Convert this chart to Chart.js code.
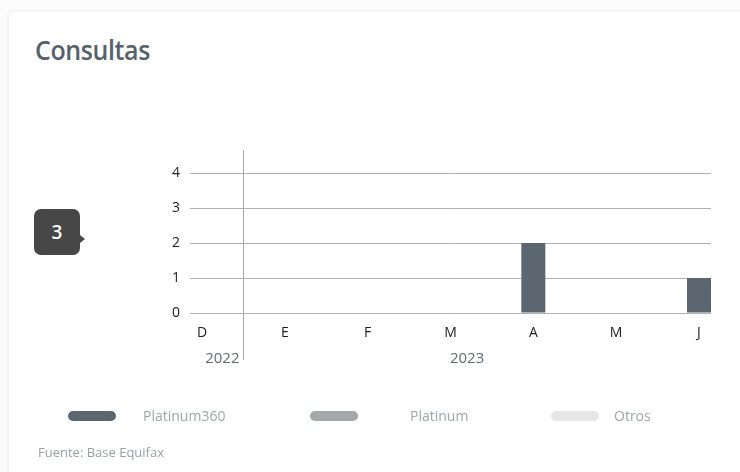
<!DOCTYPE html>
<html>
<head>
<meta charset="utf-8">
<script src="https://cdn.jsdelivr.net/npm/chart.js@4.4.0/dist/chart.umd.min.js"></script>
<style>
  html, body { margin: 0; padding: 0; background: #fbfbfb; }
  body { width: 740px; height: 472px; position: relative; overflow: hidden; font-family: "Open Sans", sans-serif; }
  .card { position: absolute; left: 9px; top: 12px; width: 760px; height: 500px; background: #fff;
          border-radius: 6px; box-shadow: 0 0 5px rgba(0,0,0,0.08); }
  h1 { position: absolute; left: 35px; top: 33px; margin: 0; font-size: 25px; line-height: 30px; font-weight: 600; color: #56616b;
       letter-spacing: -0.4px; transform: scale(1, 1.09); transform-origin: left top; }
  .badge { position: absolute; left: 34px; top: 209px; width: 46px; height: 46px; background: #474747; border-radius: 7px;
           color: #fff; font-size: 19px; font-weight: 600; line-height: 46px; text-align: center; }
  .badge:after { content: ""; position: absolute; right: -5px; top: 26px; border-left: 5px solid #474747;
                 border-top: 4px solid transparent; border-bottom: 4px solid transparent; }
  #chart { position: absolute; left: 0; top: 0; }
  .legend { position: absolute; top: 406px; left: 0; font-size: 14px; color: #a0a5a9; }
  .legend span { position: absolute; white-space: nowrap; }
  .legend i { position: absolute; top: 5px; width: 48px; height: 10px; border-radius: 5px; }
  .source { position: absolute; left: 38px; top: 443px; font-size: 13px; color: #9aa0a4; }
</style>
</head>
<body>
<div class="card"></div>
<h1>Consultas</h1>
<div class="badge">3</div>
<canvas id="chart" width="740" height="472"></canvas>
<div class="legend" id="legend"></div>
<div class="source">Fuente: Base Equifax</div>
<script>
// meses (dic 2022 - jun 2023)
const months = ["D", "E", "F", "M", "A", "M", "J"];
const years = ["2022", "2023"];
const yTicks = [0, 1, 2, 3, 4];

const platinum360 = [0, 0, 0, 0, 2, 0, 1];
const platinum = [0, 0, 0, 0, 0, 0, 0];
const otros = [0, 0, 0, 0, 0, 0, 0];

const seriesNames = ["Platinum360", "Platinum", "Otros"];
const seriesColors = ["#5b6670", "#a4a8ab", "#e6e6e6"];

const toPoints = (arr) => arr.map((v, i) => ({ x: i, y: v }));

// linea separadora de años y etiquetas de año
const yearDivider = {
  id: "yearDivider",
  afterDraw(chart) {
    const { ctx, scales } = chart;
    const xs = scales.x;
    const x = Math.round(xs.getPixelForValue(0.5)) + 0.5;
    ctx.save();
    ctx.strokeStyle = "#a8a8a8";
    ctx.lineWidth = 1;
    ctx.beginPath();
    ctx.moveTo(x, 150);
    ctx.lineTo(x, 360);
    ctx.stroke();
    ctx.fillStyle = "#5f6b75";
    ctx.font = "15px 'Open Sans'";
    ctx.textBaseline = "middle";
    ctx.textAlign = "right";
    ctx.fillText(years[0], x - 4, 359);
    ctx.textAlign = "center";
    ctx.fillText(years[1], xs.getPixelForValue(3.2), 359);
    ctx.restore();
  },
};

new Chart(document.getElementById("chart"), {
  type: "bar",
  data: {
    datasets: [platinum360, platinum, otros].map((d, i) => ({
      label: seriesNames[i],
      data: toPoints(d),
      backgroundColor: seriesColors[i],
      barThickness: 24,
      inflateAmount: 0,
    })),
  },
  options: {
    responsive: false,
    animation: false,
    layout: { padding: { left: 150, right: 29, top: 173, bottom: 129 } },
    plugins: { legend: { display: false }, tooltip: { enabled: false } },
    scales: {
      x: {
        type: "linear",
        stacked: true,
        offset: false,
        min: -0.145,
        max: 6.145,
        afterFit: (s) => { s.height = 30; },
        afterBuildTicks: (s) => { s.ticks = months.map((m, i) => ({ value: i })); },
        grid: { display: false },
        border: { display: false },
        ticks: {
          padding: 4,
          color: "#222",
          font: { family: "Open Sans", size: 14 },
          autoSkip: false,
          maxRotation: 0,
          callback: (v) => months[v],
        },
      },
      y: {
        stacked: true,
        min: 0,
        max: 4,
        afterFit: (s) => { s.width = 40; },
        afterBuildTicks: (s) => { s.ticks = yTicks.map((v) => ({ value: v })); },
        grid: { color: "#b0b0b0", drawTicks: false },
        border: { display: false },
        ticks: {
          padding: 10,
          color: "#222",
          font: { family: "Open Sans", size: 14 },
        },
      },
    },
  },
  plugins: [yearDivider],
});

// leyenda
const legendPill = [68, 310, 551];
const legendText = [143, 410, 614];
const legend = document.getElementById("legend");
seriesNames.forEach((name, i) => {
  legend.innerHTML += `<i style="left:${legendPill[i]}px;background:${seriesColors[i]}"></i><span style="left:${legendText[i]}px">${name}</span>`;
});
</script>
</body>
</html>
